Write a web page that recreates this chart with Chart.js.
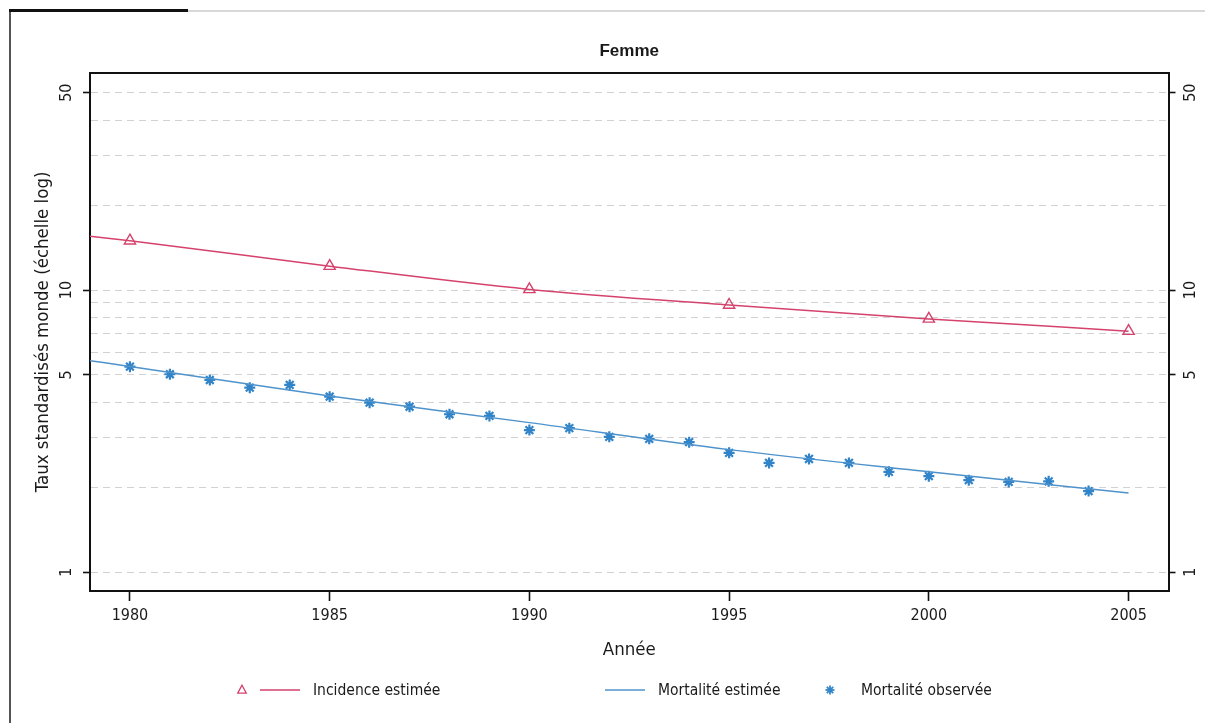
<!DOCTYPE html>
<html>
<head>
<meta charset="utf-8">
<script src="https://cdn.jsdelivr.net/npm/chart.js@4.4.1/dist/chart.umd.min.js"></script>
<style>
  html, body { margin: 0; padding: 0; background: #fff; }
  #wrap { position: relative; width: 1205px; height: 723px; overflow: hidden; }
  #chart { position: absolute; left: 0; top: 0; }
  .edge-left { position: absolute; left: 9px; top: 10px; width: 2px; height: 713px; background: #555; }
  .edge-top { position: absolute; left: 188px; top: 10px; right: 0; height: 2px; background: #d8d8d8; }
  .edge-tab { position: absolute; left: 9px; top: 9px; width: 179px; height: 3px; background: #111; }
  .key { position: absolute; top: 682px; }
  .label {
    position: absolute; top: 680px; line-height: 20px; white-space: nowrap;
    font-family: 'DejaVu Sans Condensed', 'DejaVu Sans', sans-serif; font-size: 15.5px; color: #1a1a1a;
  }
</style>
</head>
<body>
<div id="wrap">
  <canvas id="chart" width="1205" height="723" style="width:1205px;height:723px"></canvas>
  <div class="edge-left"></div>
  <div class="edge-top"></div>
  <div class="edge-tab"></div>
  <div id="legend"></div>
</div>
<script>
// fitted curves (at the knots)
const FIT_YEARS = [1979, 1980, 1985, 1990, 1995, 2000, 2005];
const INCIDENCE_FIT = [15.5, 14.95, 12.15, 10.05, 8.85, 7.9, 7.15];
const MORTALITY_FIT = [5.62, 5.36, 4.21, 3.39, 2.72, 2.27, 1.91];

// triangle markers on the incidence curve
const MARKER_YEARS = [1980, 1985, 1990, 1995, 2000, 2005];
const INCIDENCE_MARKERS = [14.95, 12.15, 10.05, 8.85, 7.9, 7.15];

// observed mortality
const OBSERVED_YEARS = [1980, 1981, 1982, 1983, 1984, 1985, 1986, 1987, 1988, 1989,
  1990, 1991, 1992, 1993, 1994, 1995, 1996, 1997, 1998, 1999,
  2000, 2001, 2002, 2003, 2004];
const MORTALITY_OBSERVED = [5.35, 5.03, 4.8, 4.51, 4.61, 4.19, 3.99, 3.86, 3.63, 3.58,
  3.19, 3.24, 3.02, 2.97, 2.89, 2.65, 2.44, 2.52, 2.44, 2.27,
  2.19, 2.12, 2.09, 2.1, 1.94];

const X_TICKS = [1980, 1985, 1990, 1995, 2000, 2005];
const Y_GRID = [1, 2, 3, 4, 5, 6, 7, 8, 9, 10, 20, 30, 40, 50];
const Y_LABELLED = [1, 5, 10, 50];
const LEGEND_TEXT = ['Incidence estimée', 'Mortalité estimée', 'Mortalité observée'];

const COLORS = {
  incidence: '#d5426c',
  mortality: '#4f93cc',
  observed: '#3184c8',
  grid: '#d2d2d2',
  axis: '#111111',
  text: '#1a1a1a'
};

const FONT_FAMILY = "'DejaVu Sans Condensed', 'DejaVu Sans', sans-serif";
const TICK_FONT = { family: FONT_FAMILY, size: 16 };
const AXIS_TITLE_FONT = { family: FONT_FAMILY, size: 18.5 };

function toPoints(xs, ys) {
  return xs.map((x, i) => ({ x, y: ys[i] }));
}

// legend: keys and labels laid out as in the original (uneven column spacing)
function buildLegend() {
  const box = document.getElementById('legend');
  const line = (x1, x2, color) =>
    `<line x1="${x1}" y1="8" x2="${x2}" y2="8" stroke="${color}" stroke-width="1.5"/>`;
  const keys = [
    { left: 234, svg: `<path d="M8 3.2 L12.3 11.2 L3.7 11.2 Z" fill="none" stroke="${COLORS.incidence}" stroke-width="1.3"/>` + line(26, 66, COLORS.incidence) },
    { left: 600, svg: line(5, 45, COLORS.mortality) },
    { left: 822, svg: `<g stroke="${COLORS.observed}" stroke-width="1.8">` +
        '<line x1="3.5" y1="8" x2="12.5" y2="8"/><line x1="8" y1="3.5" x2="8" y2="12.5"/>' +
        '<line x1="4.8" y1="4.8" x2="11.2" y2="11.2"/><line x1="4.8" y1="11.2" x2="11.2" y2="4.8"/></g>' }
  ];
  const textLeft = [313, 658, 861];
  keys.forEach((k, i) => {
    const svg = document.createElementNS('http://www.w3.org/2000/svg', 'svg');
    svg.setAttribute('class', 'key');
    svg.setAttribute('width', '72');
    svg.setAttribute('height', '16');
    svg.style.left = k.left + 'px';
    svg.innerHTML = k.svg;
    box.appendChild(svg);
    const span = document.createElement('span');
    span.className = 'label';
    span.style.left = textLeft[i] + 'px';
    span.textContent = LEGEND_TEXT[i];
    box.appendChild(span);
  });
}
buildLegend();

const yMin = 0.8585;
const yMax = 58.86;

new Chart(document.getElementById('chart').getContext('2d'), {
  type: 'line',
  data: {
    datasets: [
      {
        label: 'Incidence estimée',
        data: toPoints(FIT_YEARS, INCIDENCE_FIT),
        borderColor: COLORS.incidence,
        borderWidth: 1.5,
        pointRadius: 0,
        cubicInterpolationMode: 'monotone'
      },
      {
        label: 'Incidence estimée (repères)',
        data: toPoints(MARKER_YEARS, INCIDENCE_MARKERS),
        showLine: false,
        pointStyle: 'triangle',
        pointRadius: 6.5,
        pointBorderWidth: 1.4,
        pointBorderColor: COLORS.incidence,
        pointBackgroundColor: 'rgba(255,255,255,0)'
      },
      {
        label: 'Mortalité estimée',
        data: toPoints(FIT_YEARS, MORTALITY_FIT),
        borderColor: COLORS.mortality,
        borderWidth: 1.5,
        pointRadius: 0,
        cubicInterpolationMode: 'monotone'
      },
      {
        label: 'Mortalité observée',
        data: toPoints(OBSERVED_YEARS, MORTALITY_OBSERVED),
        showLine: false,
        pointStyle: 'star',
        pointRadius: 5.5,
        pointBorderWidth: 2.2,
        pointBorderColor: COLORS.observed,
        pointBackgroundColor: COLORS.observed
      }
    ]
  },
  options: {
    responsive: false,
    animation: false,
    devicePixelRatio: 1,
    layout: { padding: { top: 0, left: 22, right: 0, bottom: 46.5 } },
    plugins: {
      tooltip: { enabled: false },
      legend: { display: false }
    },
    scales: {
      x: {
        type: 'linear',
        position: 'bottom',
        min: 1979,
        max: 2006,
        afterBuildTicks: (s) => { s.ticks = X_TICKS.map((v) => ({ value: v })); },
        afterFit: (s) => { s.height = 85.5; },
        ticks: {
          color: COLORS.text,
          font: TICK_FONT,
          padding: 5,
          maxRotation: 0,
          autoSkip: false,
          callback: (v) => String(v)
        },
        grid: {
          drawOnChartArea: false,
          drawTicks: true,
          tickLength: 10,
          tickWidth: 1.6,
          tickColor: COLORS.axis
        },
        border: { display: true, color: COLORS.axis, width: 2 },
        title: {
          display: true,
          text: 'Année',
          color: COLORS.text,
          font: AXIS_TITLE_FONT,
          padding: { top: 0, bottom: 15.5 }
        }
      },
      xTop: {
        type: 'linear',
        position: 'top',
        min: 1979,
        max: 2006,
        afterFit: (s) => { s.height = 72.7; },
        ticks: { display: false },
        grid: { drawOnChartArea: false, drawTicks: false },
        border: { display: true, color: COLORS.axis, width: 2 },
        title: {
          display: true,
          text: 'Femme',
          color: COLORS.text,
          font: { family: "'Liberation Sans', Arial, sans-serif", size: 17, weight: 'bold' },
          padding: { top: 40.8, bottom: 11.5 }
        }
      },
      y: {
        type: 'logarithmic',
        position: 'left',
        min: yMin,
        max: yMax,
        afterBuildTicks: (s) => { s.ticks = Y_GRID.map((v) => ({ value: v })); },
        afterFit: (s) => { s.width = 68; },
        ticks: {
          color: COLORS.text,
          font: TICK_FONT,
          padding: 7,
          autoSkip: false,
          minRotation: 90,
          maxRotation: 90,
          crossAlign: 'center',
          callback: (v) => (Y_LABELLED.includes(v) ? String(v) : '')
        },
        grid: {
          color: COLORS.grid,
          lineWidth: 1,
          drawTicks: true,
          tickLength: 7,
          tickWidth: 1.6,
          tickColor: (ctx) => (ctx.tick && Y_LABELLED.includes(ctx.tick.value) ? COLORS.axis : 'rgba(0,0,0,0)')
        },
        border: { display: true, color: COLORS.axis, width: 2, dash: [7, 5] },
        title: {
          display: true,
          text: 'Taux standardisés monde (échelle log)',
          color: COLORS.text,
          font: AXIS_TITLE_FONT,
          padding: { top: 10, bottom: 0 }
        }
      },
      y2: {
        type: 'logarithmic',
        position: 'right',
        min: yMin,
        max: yMax,
        afterBuildTicks: (s) => { s.ticks = Y_LABELLED.map((v) => ({ value: v })); },
        afterFit: (s) => { s.width = 36.5; },
        ticks: {
          color: COLORS.text,
          font: TICK_FONT,
          padding: 6,
          autoSkip: false,
          minRotation: 90,
          maxRotation: 90,
          crossAlign: 'center',
          callback: (v) => String(v)
        },
        grid: {
          drawOnChartArea: false,
          drawTicks: true,
          tickLength: 7,
          tickWidth: 1.6,
          tickColor: COLORS.axis
        },
        border: { display: true, color: COLORS.axis, width: 2 }
      }
    }
  }
});
</script>
</body>
</html>
